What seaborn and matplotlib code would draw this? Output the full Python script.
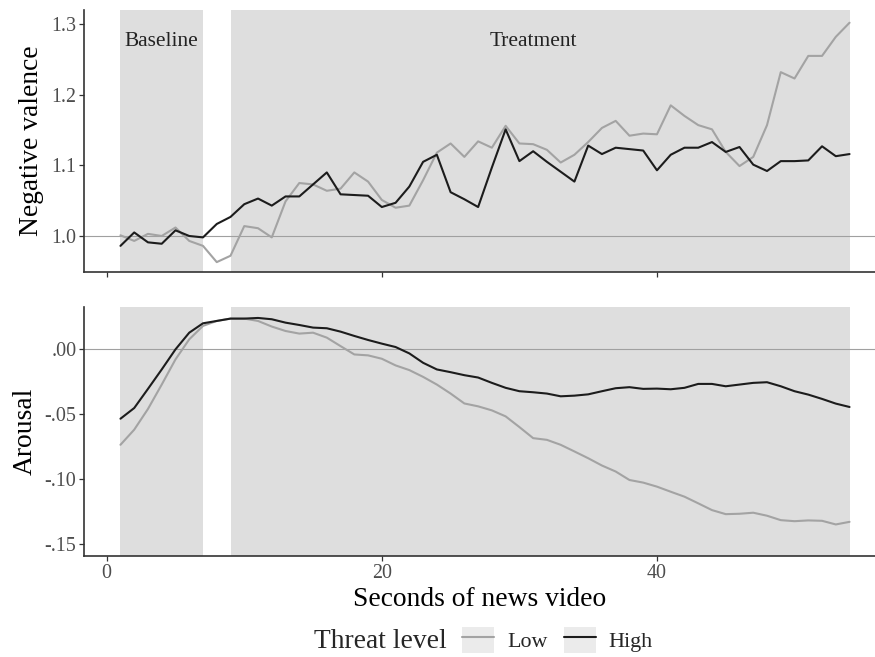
import numpy as np
import pandas as pd
import matplotlib
matplotlib.use("Agg")
import matplotlib.pyplot as plt
from matplotlib.patches import Patch
from matplotlib.lines import Line2D
from matplotlib.legend_handler import HandlerTuple
import seaborn as sns

# ── Data ─────────────────────────────────────────────────────────────────────
seconds = np.arange(1, 55)

valence_low = [
    1.001, 0.993, 1.003, 1.000, 1.012, 0.993, 0.986, 0.963, 0.972, 1.014,
    1.011, 0.998, 1.049, 1.075, 1.073, 1.064, 1.067, 1.090, 1.077, 1.051,
    1.040, 1.043, 1.079, 1.118, 1.131, 1.112, 1.134, 1.125, 1.156, 1.131,
    1.130, 1.122, 1.104, 1.115, 1.133, 1.153, 1.163, 1.142, 1.145, 1.144,
    1.185, 1.170, 1.157, 1.151, 1.119, 1.099, 1.112, 1.157, 1.232, 1.223,
    1.255, 1.255, 1.282, 1.302,
]
valence_high = [
    0.986, 1.005, 0.991, 0.989, 1.008, 1.000, 0.998, 1.017, 1.027, 1.045,
    1.053, 1.043, 1.056, 1.056, 1.073, 1.090, 1.059, 1.058, 1.057, 1.041,
    1.047, 1.070, 1.105, 1.115, 1.062, 1.052, 1.041, 1.097, 1.151, 1.106,
    1.120, 1.105, 1.091, 1.077, 1.128, 1.116, 1.125, 1.123, 1.121, 1.093,
    1.115, 1.125, 1.125, 1.133, 1.119, 1.126, 1.101, 1.092, 1.106, 1.106,
    1.107, 1.127, 1.113, 1.116,
]
arousal_low = [
    -0.0737, -0.0621, -0.0462, -0.0275, -0.0082, 0.0072, 0.0175, 0.0213, 0.0231, 0.0231,
    0.0213, 0.0170, 0.0136, 0.0116, 0.0123, 0.0085, 0.0020, -0.0044, -0.0051, -0.0077,
    -0.0128, -0.0164, -0.0216, -0.0275, -0.0344, -0.0420, -0.0442, -0.0473, -0.0519, -0.0601,
    -0.0686, -0.0699, -0.0737, -0.0788, -0.0840, -0.0896, -0.0942, -0.1007, -0.1027, -0.1058,
    -0.1097, -0.1135, -0.1186, -0.1238, -0.1269, -0.1266, -0.1258, -0.1281, -0.1315, -0.1323,
    -0.1317, -0.1320, -0.1348, -0.1328,
]
arousal_high = [
    -0.0537, -0.0455, -0.0308, -0.0159, -0.0005, 0.0123, 0.0195, 0.0213, 0.0231, 0.0231,
    0.0236, 0.0226, 0.0200, 0.0182, 0.0162, 0.0157, 0.0131, 0.0098, 0.0067, 0.0039,
    0.0013, -0.0036, -0.0108, -0.0159, -0.0180, -0.0203, -0.0221, -0.0262, -0.0300, -0.0326,
    -0.0334, -0.0344, -0.0365, -0.0360, -0.0350, -0.0326, -0.0303, -0.0295, -0.0308, -0.0306,
    -0.0311, -0.0300, -0.0270, -0.0270, -0.0288, -0.0275, -0.0262, -0.0257, -0.0288, -0.0326,
    -0.0352, -0.0385, -0.0421, -0.0447,
]

threat_levels = ["Low", "High"]
phases = [("Baseline", 1, 7, 4), ("Treatment", 9, 54, 31)]

valence_ticks = [1.0, 1.1, 1.2, 1.3]
valence_labels = ["1.0", "1.1", "1.2", "1.3"]
arousal_ticks = [0.0, -0.05, -0.10, -0.15]
arousal_labels = [".00", "-.05", "-.10", "-.15"]
x_ticks = [0, 20, 40]

# ── Styling ──────────────────────────────────────────────────────────────────
PALETTE = {"Low": "#a3a3a3", "High": "#1c1c1c"}
SHADE = "#dedede"
TICK_GREY = "#4d4d4d"
AXIS_COL = "#333333"

sns.set_style("white")
plt.rcParams["font.family"] = ["Liberation Serif", "DejaVu Serif"]

df = pd.DataFrame({
    "sec": np.concatenate([seconds, seconds]),
    "valence": valence_low + valence_high,
    "arousal": arousal_low + arousal_high,
    "Threat level": ["Low"] * len(seconds) + ["High"] * len(seconds),
})

fig = plt.figure(figsize=(8.75, 6.57), dpi=100)
ax_top = fig.add_axes([84 / 875, 1 - 272 / 657, 791 / 875, 262 / 657])
ax_bot = fig.add_axes([84 / 875, 1 - 556 / 657, 791 / 875, 249 / 657])

for ax, col in [(ax_top, "valence"), (ax_bot, "arousal")]:
    for name, x0, x1, _ in phases:
        ax.axvspan(x0, x1, color=SHADE, lw=0, zorder=0)
    ax.axhline(1.0 if col == "valence" else 0.0, color="#a0a0a0", lw=0.8, zorder=1)
    sns.lineplot(
        data=df, x="sec", y=col, hue="Threat level", hue_order=threat_levels,
        palette=PALETTE, linewidth=1.5, legend=False, ax=ax, zorder=3,
    )
    ax.set_xlim(-1.65, 55.85)
    ax.set_xticks(x_ticks)
    for s in ["top", "right"]:
        ax.spines[s].set_visible(False)
    for s in ["left", "bottom"]:
        ax.spines[s].set_color(AXIS_COL)
        ax.spines[s].set_linewidth(1.2)
    ax.tick_params(axis="both", length=3.5, width=0.9, color=AXIS_COL,
                   labelsize=14.4, labelcolor=TICK_GREY, pad=2, direction="out")
    ax.tick_params(left=True, bottom=True)
    ax.grid(False)

# top panel
ax_top.set_ylim(0.949, 1.32)
ax_top.set_yticks(valence_ticks)
ax_top.set_yticklabels(valence_labels)
ax_top.set_xticklabels([])
ax_top.set_xlabel("")
ax_top.set_ylabel("Negative valence", fontsize=19.8, color="black")
ax_top.yaxis.set_label_coords(-0.051, 0.5)
for name, x0, x1, xc in phases:
    ax_top.text(xc, 1.275, name, ha="center", va="center", fontsize=15.4, color="#222222")

# bottom panel
ax_bot.set_ylim(-0.159, 0.032)
ax_bot.set_yticks(arousal_ticks)
ax_bot.set_yticklabels(arousal_labels)
ax_bot.set_ylabel("Arousal", fontsize=19.8, color="black")
ax_bot.yaxis.set_label_coords(-0.059, 0.5)
ax_bot.set_xlabel("Seconds of news video", fontsize=19.8, color="black")
ax_bot.xaxis.set_label_coords(0.5, -0.125)

# legend, laid out horizontally with the title on the left
handles = [
    (Patch(facecolor="#ebebeb", edgecolor="none"),
     Line2D([], [], color=PALETTE[t], lw=1.5))
    for t in threat_levels
]
fig.text(447 / 875, 1 - 641 / 657, "Threat level", ha="right", va="center",
         fontsize=19.8)
fig.legend(
    handles, threat_levels, handler_map={tuple: HandlerTuple(ndivide=1, pad=0)},
    loc="center left", bbox_to_anchor=(462 / 875, 1 - 640 / 657), ncol=2,
    frameon=False, fontsize=15.8, handlelength=1.45, handleheight=1.4,
    handletextpad=0.6, columnspacing=0.75, borderpad=0, borderaxespad=0,
)

fig.savefig("out.png", dpi=100)
